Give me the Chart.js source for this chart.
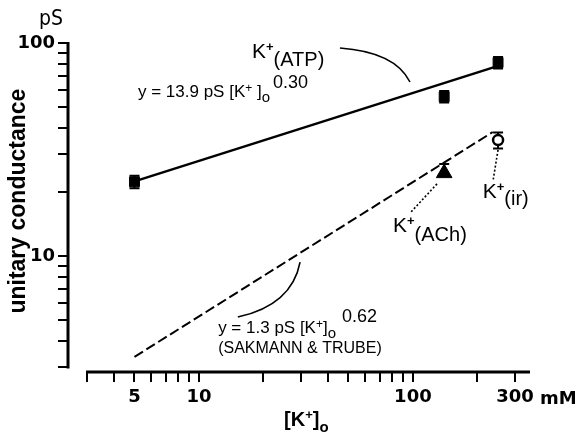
<!DOCTYPE html>
<html>
<head>
<meta charset="utf-8">
<script src="https://cdn.jsdelivr.net/npm/chart.js@4.4.1/dist/chart.umd.min.js"></script>
<style>
  html, body { margin: 0; padding: 0; background: #fff; }
  #wrap { width: 585px; height: 436px; }
</style>
</head>
<body>
<div id="wrap"><canvas id="chart"></canvas></div>
<script>
const NARROW = "'Liberation Sans Narrow', 'DejaVu Sans Condensed', sans-serif";
const SANS = "'Liberation Sans', Arial, sans-serif";
const WIDE = "'DejaVu Sans', sans-serif";

// K+(ATP) channel, unitary conductance vs [K+]o
const atpConc = [5, 140, 250];
const atpCond = [22.3, 56, 81];
const atpErr = [1.5, 3.5, 5];
// K+(ACh)
const achConc = [140];
const achCond = [24.5];
const achErrUp = [2.5];
const achErrDown = [0];
// K+(ir)
const irConc = [250];
const irCond = [35];
const irErr = [3];
// fitted lines, ends
const atpFitConc = [5, 240];
const atpFitCond = [22.4, 77];
const stFitConc = [5, 236];
const stFitCond = [3.36, 38.2];

const xTicks = [3, 4, 5, 6, 7, 8, 9, 10, 20, 30, 40, 50, 60, 70, 80, 90, 100, 200, 300];
const xLabels = [5, 10, 100, 300];
const yTicks = [3, 4, 5, 6, 7, 8, 9, 10, 20, 30, 40, 50, 60, 70, 80, 90, 100];
const yLabels = [10, 100];

const pts = (xs, ys) => xs.map((x, i) => ({ x: x, y: ys[i] }));

// text drawn with sub/superscripts, one part after another
function rich(ctx, x, y, parts) {
  for (const p of parts) {
    ctx.font = (p.w || "normal") + " " + p.s + "px " + (p.f || SANS);
    x += p.gap || 0;
    ctx.fillText(p.t, x, y + (p.dy || 0));
    x += ctx.measureText(p.t).width;
  }
}

const annotate = {
  id: "annotate",
  beforeDatasetsDraw(chart) {
    const { ctx, scales: { x, y } } = chart;
    ctx.save();
    ctx.strokeStyle = "#000";
    ctx.lineWidth = 2;
    const bars = [
      [atpConc, atpCond, atpErr, atpErr],
      [achConc, achCond, achErrUp, achErrDown],
      [irConc, irCond, irErr, irErr],
    ];
    bars.forEach(([xs, ys, up, down]) => {
      xs.forEach((v, i) => {
        const px = x.getPixelForValue(v);
        const top = y.getPixelForValue(ys[i] + up[i]);
        const bot = y.getPixelForValue(ys[i] - down[i]);
        ctx.beginPath();
        ctx.moveTo(px, top); ctx.lineTo(px, bot);
        ctx.moveTo(px - 5, top); ctx.lineTo(px + 5, top);
        if (down[i] > 0) { ctx.moveTo(px - 5, bot); ctx.lineTo(px + 5, bot); }
        ctx.stroke();
      });
    });
    ctx.restore();
  },
  afterDraw(chart) {
    const { ctx, chartArea: a, scales: { x, y } } = chart;
    const X = v => x.getPixelForValue(v);
    const Y = v => y.getPixelForValue(v);
    ctx.save();
    ctx.fillStyle = "#000";
    ctx.strokeStyle = "#000";

    // axis lines
    ctx.lineWidth = 3;
    ctx.beginPath();
    ctx.moveTo(a.left, Y(100) - 1); ctx.lineTo(a.left, Y(3) + 1);
    ctx.moveTo(X(3) - 1, a.bottom); ctx.lineTo(a.right, a.bottom);
    ctx.stroke();

    ctx.textBaseline = "alphabetic";
    ctx.textAlign = "left";

    // axis labels
    rich(ctx, 39, 25, [{ t: "pS", s: 21, f: NARROW }]);
    rich(ctx, X(300) + 25, a.bottom + 32, [{ t: "mM", s: 18, w: "bold", f: WIDE }]);
    rich(ctx, X(25), a.bottom + 54, [
      { t: "[K", s: 20, w: "bold" }, { t: "+", s: 13, w: "bold", dy: -7 },
      { t: "]", s: 20, w: "bold" }, { t: "o", s: 15, w: "bold", dy: 6 }
    ]);

    // K+(ATP) label and its leader
    rich(ctx, X(17.7), Y(85), [
      { t: "K", s: 21 }, { t: "+", s: 13, dy: -7, w: "bold" }, { t: "(ATP)", s: 20, dy: 8 }
    ]);
    ctx.lineWidth = 1.6;
    ctx.beginPath();
    ctx.moveTo(X(45.6), Y(94.7));
    ctx.quadraticCurveTo(X(82.5), Y(90.7), X(96.9), Y(65.6));
    ctx.stroke();

    rich(ctx, X(5.19), Y(55.8), [
      { t: "y = 13.9 pS [K", s: 17 }, { t: "+", s: 12, dy: -5 }, { t: " ]", s: 17 },
      { t: "o", s: 15, dy: 5 }, { t: "0.30", s: 18, dy: -9, gap: 3 }
    ]);

    // K+(ir), K+(ACh) labels with dotted pointers
    rich(ctx, X(212), Y(18.7), [
      { t: "K", s: 21 }, { t: "+", s: 13, dy: -7, w: "bold" }, { t: "(ir)", s: 20, dy: 7 }
    ]);
    rich(ctx, X(80.7), Y(12.96), [
      { t: "K", s: 21 }, { t: "+", s: 13, dy: -7, w: "bold" }, { t: "(ACh)", s: 20, dy: 9 }
    ]);
    ctx.setLineDash([2, 2]);
    ctx.lineWidth = 1.6;
    ctx.beginPath();
    ctx.moveTo(X(249.9), Y(31.5)); ctx.lineTo(X(236.7), Y(22.5));
    ctx.moveTo(X(129.6), Y(21.8)); ctx.lineTo(X(96.9), Y(15.9));
    ctx.stroke();
    ctx.setLineDash([]);

    // Sakmann & Trube fit label and leader
    ctx.beginPath();
    ctx.moveTo(X(29.7), Y(9.37));
    ctx.quadraticCurveTo(X(27.2), Y(5.89), X(15.2), Y(5.17));
    ctx.stroke();
    rich(ctx, X(12.3), Y(4.35), [
      { t: "y = 1.3 pS [K", s: 17 }, { t: "+", s: 12, dy: -5 }, { t: "]", s: 17 },
      { t: "o", s: 15, dy: 5 }, { t: "0.62", s: 18, dy: -11, gap: 6 }
    ]);
    rich(ctx, X(12.3), Y(3.5), [{ t: "(SAKMANN & TRUBE)", s: 16 }]);
    ctx.restore();
  }
};

const tickFont = { family: WIDE, size: 18, weight: "bold" };

new Chart(document.getElementById("chart"), {
  type: "scatter",
  data: {
    datasets: [
      {
        label: "K+(ATP) fit",
        data: pts(atpFitConc, atpFitCond),
        showLine: true,
        borderColor: "#000",
        borderWidth: 2.5,
        pointRadius: 0,
      },
      {
        label: "Sakmann & Trube fit",
        data: pts(stFitConc, stFitCond),
        showLine: true,
        borderColor: "#000",
        borderWidth: 2,
        borderDash: [10, 4],
        pointRadius: 0,
      },
      {
        label: "K+(ATP)",
        data: pts(atpConc, atpCond),
        pointStyle: "rect",
        pointRadius: 7,
        backgroundColor: "#000",
        borderColor: "#000",
      },
      {
        label: "K+(ACh)",
        data: pts(achConc, achCond),
        pointStyle: "triangle",
        pointRadius: 9,
        backgroundColor: "#000",
        borderColor: "#000",
      },
      {
        label: "K+(ir)",
        data: pts(irConc, irCond),
        pointStyle: "circle",
        pointRadius: 5,
        borderWidth: 2.5,
        backgroundColor: "#fff",
        borderColor: "#000",
      },
    ],
  },
  options: {
    responsive: true,
    maintainAspectRatio: false,
    devicePixelRatio: 1,
    animation: false,
    layout: { padding: { left: 0, top: 43, right: 55, bottom: 0 } },
    plugins: {
      legend: { display: false },
      tooltip: { enabled: false },
    },
    scales: {
      x: {
        type: "logarithmic",
        min: 2.445,
        max: 352.5,
        afterFit: (s) => { s.height = 64; },
        afterBuildTicks: (s) => { s.ticks = xTicks.map((v) => ({ value: v })); },
        border: { display: false },
        grid: { drawOnChartArea: false, tickLength: 10, lineWidth: 2, color: "#000" },
        ticks: {
          autoSkip: false,
          maxRotation: 0,
          padding: 5,
          color: "#000",
          font: tickFont,
          callback: (v) => (xLabels.includes(v) ? String(v) : ""),
        },
      },
      y: {
        type: "logarithmic",
        min: 2.854,
        max: 100,
        afterFit: (s) => { s.width = 68; },
        afterBuildTicks: (s) => { s.ticks = yTicks.map((v) => ({ value: v })); },
        border: { display: false },
        grid: { drawOnChartArea: false, tickLength: 10, lineWidth: 2, color: "#000" },
        ticks: {
          autoSkip: false,
          padding: 3,
          color: "#000",
          font: tickFont,
          callback: (v) => (yLabels.includes(v) ? String(v) : ""),
        },
        title: {
          display: true,
          text: "  unitary conductance",
          color: "#000",
          font: { family: SANS, size: 23, weight: "bold" },
          padding: { top: 5, bottom: 0 },
        },
      },
    },
  },
  plugins: [annotate],
});
</script>
</body>
</html>
